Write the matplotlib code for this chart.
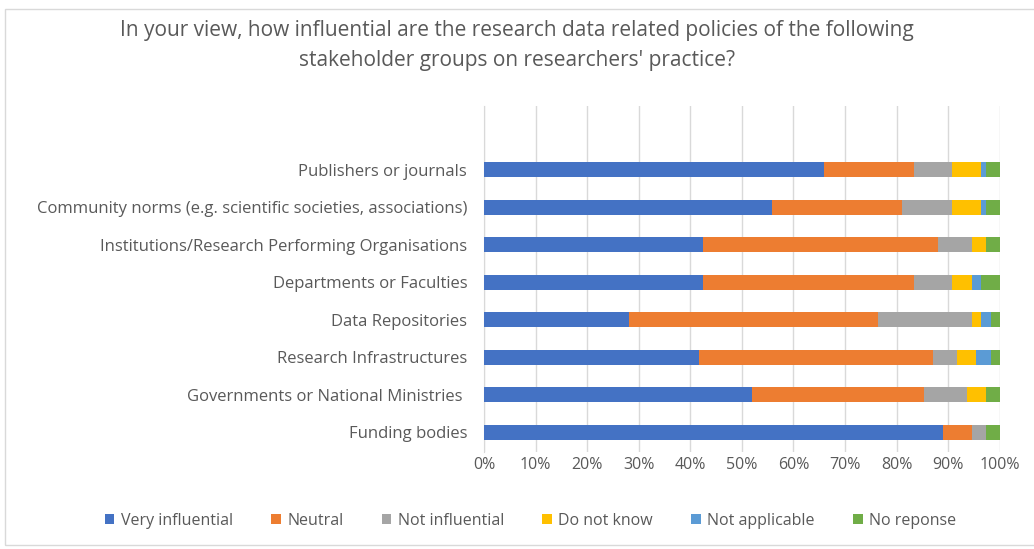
import numpy as np
import matplotlib
matplotlib.use('Agg')
import matplotlib.pyplot as plt
import matplotlib.ticker as ticker
from matplotlib.patches import Rectangle

plt.rcParams['font.family'] = ['Open Sans', 'DejaVu Sans']

# categories listed bottom to top
categories = [
    'Funding bodies',
    'Governments or National Ministries ',
    'Research Infrastructures',
    'Data Repositories',
    'Departments or Faculties',
    'Institutions/Research Performing Organisations',
    'Community norms (e.g. scientific societies, associations)',
    'Publishers or journals',
]

very_influential = [89.0, 52.0, 41.6, 28.1, 42.5, 42.5, 55.8, 66.0]
neutral          = [5.6, 33.2, 45.4, 48.3, 40.8, 45.6, 25.2, 17.3]
not_influential  = [2.7, 8.4, 4.7, 18.2, 7.4, 6.5, 9.7, 7.4]
do_not_know      = [0.0, 3.7, 3.7, 1.7, 3.9, 2.7, 5.6, 5.6]
not_applicable   = [0.0, 0.0, 2.8, 1.9, 1.7, 0.0, 1.0, 1.0]
no_reponse       = [2.7, 2.7, 1.8, 1.8, 3.7, 2.7, 2.7, 2.7]

series_names = ['Very influential', 'Neutral', 'Not influential',
                'Do not know', 'Not applicable', 'No reponse']
colors = ['#4472C4', '#ED7D31', '#A5A5A5', '#FFC000', '#5B9BD5', '#70AD47']

text_color = '#595959'

fig = plt.figure(figsize=(10.34, 5.49), dpi=100)
ax = fig.add_axes([0.468, 0.177, 0.499, 0.630])

series = [very_influential, neutral, not_influential,
          do_not_know, not_applicable, no_reponse]
y = np.arange(len(categories))
left = np.zeros(len(categories))
for vals, name, col in zip(series, series_names, colors):
    vals = np.array(vals)
    ax.barh(y, vals, left=left, height=0.4, color=col, label=name, zorder=3)
    left += vals

ax.set_xlim(0, 100)
ax.set_ylim(-0.52, 8.7)
ax.set_yticks(y)
ax.set_yticklabels(categories)
ax.xaxis.set_major_locator(ticker.MultipleLocator(10))
ax.xaxis.set_major_formatter(ticker.FuncFormatter(lambda v, p: f'{int(round(v))}%'))
ax.tick_params(axis='both', length=0, colors=text_color, labelsize=12)
ax.tick_params(axis='x', labelsize=11.5, pad=4)
ax.tick_params(axis='y', pad=12)
ax.grid(axis='x', color='#d9d9d9', linewidth=1, zorder=0)
for s in ['top', 'right', 'bottom']:
    ax.spines[s].set_visible(False)
ax.spines['left'].set_color('#d9d9d9')

fig.text(0.5, 0.945, "In your view, how influential are the research data related policies of the following",
         ha='center', va='center', fontsize=15, color=text_color)
fig.text(0.5, 0.89, "stakeholder groups on researchers' practice?",
         ha='center', va='center', fontsize=15, color=text_color)

fig.legend(loc='center', bbox_to_anchor=(0.513, 0.051), ncol=6, frameon=False,
           handlelength=0.6, handleheight=0.6, handletextpad=0.4, columnspacing=2.4,
           labelcolor=text_color, prop={'size': 11.5})

fig.patches.append(Rectangle((5 / 1034, 4 / 549), 1.1, 536 / 549, transform=fig.transFigure,
                             fill=False, edgecolor='#d9d9d9', linewidth=1))

fig.savefig('out.png', dpi=100, facecolor='white')
